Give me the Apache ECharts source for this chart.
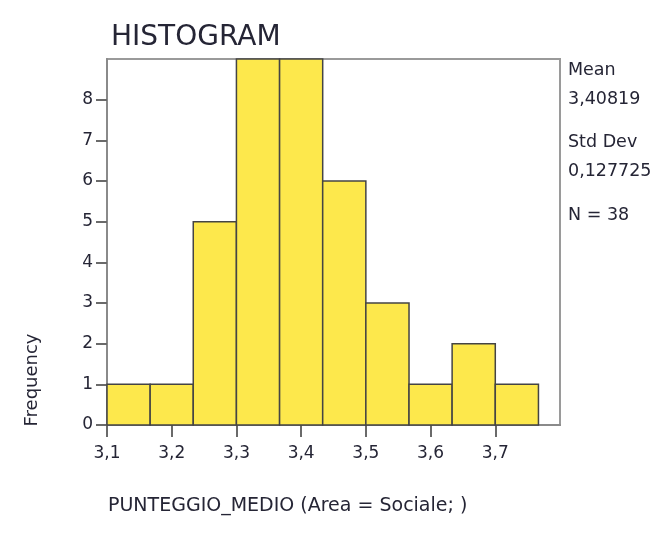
<!DOCTYPE html>
<html>
<head>
<meta charset="utf-8">
<script src="https://cdn.jsdelivr.net/npm/echarts@6/dist/echarts.min.js"></script>
<style>
  html, body { margin: 0; padding: 0; background: #fff; }
  #chart { width: 664px; height: 535px; }
</style>
</head>
<body>
<div id="chart"></div>
<script>
// bin edges (width 1/15) and counts
const binStarts = [3.1, 3.1667, 3.2333, 3.3, 3.3667, 3.4333, 3.5, 3.5667, 3.6333, 3.7];
const binEnds = [3.1667, 3.2333, 3.3, 3.3667, 3.4333, 3.5, 3.5667, 3.6333, 3.7, 3.7667];
const counts = [1, 1, 5, 9, 9, 6, 3, 1, 2, 1];
const xTicks = [3.1, 3.2, 3.3, 3.4, 3.5, 3.6, 3.7];
const yTicks = [0, 1, 2, 3, 4, 5, 6, 7, 8];
const statLines = ['Mean', '3,40819', 'Std Dev', '0,127725', 'N = 38'];

const font = 'DejaVu Sans';
const textColor = '#252535';

const chart = echarts.init(document.getElementById('chart'));

const data = counts.map((c, i) => [binStarts[i], binEnds[i], c]);

const statY = [71, 100, 143, 172, 216];

chart.setOption({
  animation: false,
  title: {
    text: 'HISTOGRAM',
    left: 106,
    top: 19,
    textStyle: { fontFamily: font, fontSize: 28, fontWeight: 'normal', color: textColor }
  },
  grid: {
    left: 107, right: 104, top: 59, bottom: 110,
    show: true, borderColor: '#9a9a9a', borderWidth: 2
  },
  xAxis: {
    type: 'value', min: 3.1, max: 3.8, interval: 0.1,
    splitLine: { show: false },
    axisLine: { show: true, lineStyle: { color: '#8a8a8a', width: 2 } },
    axisTick: { show: true, inside: false, length: 12, customValues: xTicks, lineStyle: { color: '#6a6a6a', width: 2 } },
    axisLabel: {
      customValues: xTicks, margin: 20,
      fontFamily: font, fontSize: 17, color: textColor,
      formatter: v => v.toFixed(1).replace('.', ',')
    }
  },
  yAxis: {
    type: 'value', min: 0, max: 9, interval: 1,
    splitLine: { show: false },
    axisLine: { show: true, lineStyle: { color: '#8a8a8a', width: 2 } },
    axisTick: { show: true, inside: false, length: 11, customValues: yTicks, lineStyle: { color: '#6a6a6a', width: 2 } },
    axisLabel: {
      customValues: yTicks, margin: 14,
      fontFamily: font, fontSize: 17, color: textColor
    }
  },
  series: [{
    type: 'custom',
    data: data,
    encode: { x: [0, 1], y: 2 },
    renderItem: (params, api) => {
      const p0 = api.coord([api.value(0), api.value(2)]);
      const p1 = api.coord([api.value(1), 0]);
      return {
        type: 'rect',
        shape: { x: p0[0], y: p0[1], width: p1[0] - p0[0], height: p1[1] - p0[1] },
        style: { fill: '#fde84c', stroke: '#444444', lineWidth: 1.5 }
      };
    }
  }],
  graphic: [
    ...statLines.map((t, i) => ({
      type: 'text', left: 568, top: statY[i] - 10,
      style: { text: t, fontFamily: font, fontSize: 17.5, fill: textColor }
    })),
    {
      type: 'text', x: 32, y: 380, rotation: Math.PI / 2,
      style: {
        text: 'Frequency', fontFamily: font, fontSize: 18, fill: textColor,
        align: 'center', verticalAlign: 'middle'
      }
    },
    {
      type: 'text', left: 108, top: 497,
      style: { text: 'PUNTEGGIO_MEDIO (Area = Sociale; )', fontFamily: font, fontSize: 19, fill: textColor }
    }
  ]
});
</script>
</body>
</html>
